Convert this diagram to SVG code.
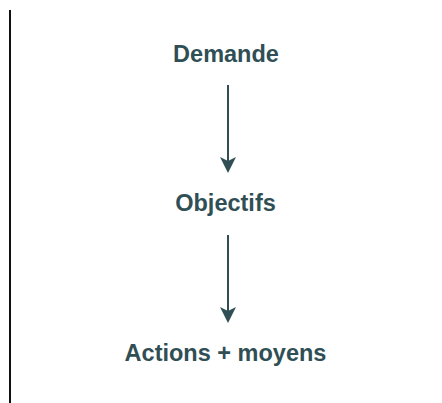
<svg xmlns="http://www.w3.org/2000/svg" width="442" height="403" viewBox="0 0 442 403">
<style>
.lbl{font-family:"Liberation Sans",Arial,sans-serif;font-weight:bold;font-size:23.5px;fill:#2f4f55;text-anchor:middle}
.conn{stroke:#2f4f55;stroke-width:2;fill:none}
</style>
<defs>
<marker id="ah" markerUnits="userSpaceOnUse" markerWidth="16" markerHeight="16" refX="14" refY="8" orient="auto" viewBox="0 0 16 16">
<path d="M0,0 L4,8 L0,16 L16,8 Z" fill="#2f4f55"/>
</marker>
</defs>
<rect width="442" height="403" fill="#ffffff"/>
<line x1="10" y1="10" x2="10" y2="403" stroke="#111111" stroke-width="2"/>
<g id="connectors">
<path class="conn" d="M228,85 L228,171" marker-end="url(#ah)"/>
<path class="conn" d="M228,235 L228,321" marker-end="url(#ah)"/>
</g>
<g id="demande"><text class="lbl" x="226" y="62">Demande</text></g>
<g id="objectifs"><text class="lbl" x="225.5" y="211">Objectifs</text></g>
<g id="actions"><text class="lbl" x="225.5" y="361">Actions + moyens</text></g>
</svg>
